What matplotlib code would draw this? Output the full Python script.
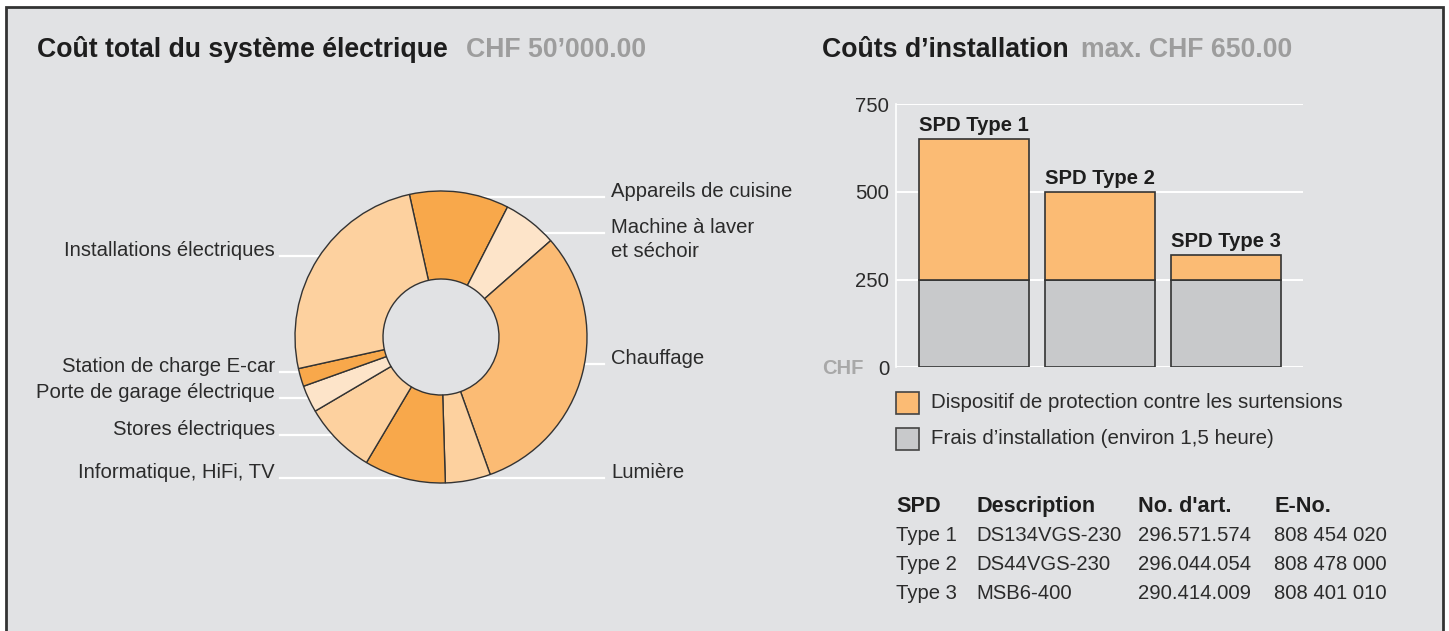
import numpy as np
import matplotlib
matplotlib.use("Agg")
import matplotlib.pyplot as plt
from matplotlib.patches import Rectangle

plt.rcParams['font.family'] = ['Liberation Sans', 'DejaVu Sans']

# donut data (share of total cost, %) - clockwise from top
pie_labels = ["Appareils de cuisine", "Machine à laver\net séchoir", "Chauffage", "Lumière",
              "Informatique, HiFi, TV", "Stores électriques", "Porte de garage électrique",
              "Station de charge E-car", "Installations électriques"]
pie_values = [11, 6, 31, 5, 9, 8, 3, 2, 25]
pie_colors = ["#f8a84b", "#fde4c9", "#fbbb74", "#fdd19f", "#f8a84b",
              "#fdd19f", "#fde4c9", "#f8a84b", "#fdd19f"]

# bar data (CHF)
bar_labels = ["SPD Type 1", "SPD Type 2", "SPD Type 3"]
install_cost = [250, 250, 250]
spd_cost = [400, 250, 70]
yticks = [0, 250, 500, 750]

# table
table_header = ["SPD", "Description", "No. d'art.", "E-No."]
table_rows = [["Type 1", "DS134VGS-230", "296.571.574", "808 454 020"],
              ["Type 2", "DS44VGS-230", "296.044.054", "808 478 000"],
              ["Type 3", "MSB6-400", "290.414.009", "808 401 010"]]

W, H = 1449, 631
BG = "#e1e2e4"
TXT = "#2b2b2b"
GREY_T = "#9d9d9d"
FS = 14.6

def Y(y):
    return H - y

fig = plt.figure(figsize=(W / 100, H / 100), dpi=100, facecolor="white")
ax = fig.add_axes([0, 0, 1, 1])
ax.set_xlim(0, W)
ax.set_ylim(0, H)
ax.axis("off")

# panel background with frame
ax.add_patch(Rectangle((6, Y(640)), 1437, 633, facecolor=BG, edgecolor="#333333", lw=2, zorder=-5))

# titles
ax.text(37, Y(57), "Coût total du système électrique", fontsize=19.2, fontweight="bold", color="#1e1e1e", va="baseline")
ax.text(466, Y(57), "CHF 50’000.00", fontsize=19.2, fontweight="bold", color=GREY_T, va="baseline")
ax.text(822, Y(57), "Coûts d’installation", fontsize=19.2, fontweight="bold", color="#1e1e1e", va="baseline")
ax.text(1081, Y(57), "max. CHF 650.00", fontsize=19.2, fontweight="bold", color=GREY_T, va="baseline")

# donut
cx, cy, R = 441, 337, 146
ax.pie(pie_values, colors=pie_colors, startangle=102.5, counterclock=False, radius=R,
       center=(cx, Y(cy)), frame=True,
       wedgeprops=dict(width=R - 58, edgecolor="#333333", linewidth=1))
ax.set_xlim(0, W)
ax.set_ylim(0, H)
ax.axis("off")

# label positions (baseline y of first line) and side
label_y = [197, 233, 364, 478, 478, 435, 398, 372, 256]
label_side = ["r", "r", "r", "r", "l", "l", "l", "l", "l"]
for lab, yy, side in zip(pie_labels, label_y, label_side):
    xe = np.sqrt(max(R ** 2 - (yy - cy) ** 2, 0))
    if side == "r":
        ax.plot([cx + xe - 6, 604], [Y(yy), Y(yy)], color="white", lw=1.6, zorder=0)
        for k, line in enumerate(lab.split("\n")):
            ax.text(611, Y(yy + 24 * k), line, fontsize=FS, color=TXT, ha="left", va="baseline")
    else:
        ax.plot([280, cx - xe + 6], [Y(yy), Y(yy)], color="white", lw=1.6, zorder=0)
        ax.text(275, Y(yy), lab, fontsize=FS, color=TXT, ha="right", va="baseline")

# bar chart
bx0, bx1, by0, by1 = 896, 1303, 367.3, 104.3
ax2 = fig.add_axes([bx0 / W, Y(by0) / H, (bx1 - bx0) / W, (by0 - by1) / H])
ax2.set_facecolor("none")
x = np.arange(len(bar_labels))
ax2.bar(x, install_cost, width=0.875, color="#c8c9cb", edgecolor="#333333", linewidth=1.2, zorder=3)
ax2.bar(x, spd_cost, bottom=install_cost, width=0.875, color="#fbbb74", edgecolor="#333333", linewidth=1.2, zorder=3)
for xi, lab, a, b in zip(x, bar_labels, install_cost, spd_cost):
    ax2.annotate(lab, (xi, a + b), xytext=(0, 6), textcoords="offset points",
                 ha="center", va="baseline", fontsize=14.6, fontweight="bold", color="#1e1e1e")
ax2.set_xlim(-0.623, 2.615)
ax2.set_ylim(0, 750)
ax2.set_yticks(yticks)
ax2.set_yticklabels([str(t) for t in yticks], fontsize=FS, color=TXT)
ax2.set_xticks([])
ax2.tick_params(axis="y", length=0, pad=5)
ax2.grid(axis="y", color="white", lw=1.4, zorder=0)
for s in ["top", "right", "bottom"]:
    ax2.spines[s].set_visible(False)
ax2.spines["left"].set_color("white")
ax2.spines["left"].set_linewidth(1.2)
ax2.set_axisbelow(True)
ax.text(822, Y(368), "CHF", fontsize=14.5, fontweight="bold", color="#a8a8a8", va="center")

# legend
for yy, col, lab in [(403, "#fbbb74", "Dispositif de protection contre les surtensions"),
                     (439, "#c8c9cb", "Frais d’installation (environ 1,5 heure)")]:
    ax.add_patch(Rectangle((896, Y(yy + 11)), 23, 22, facecolor=col, edgecolor="#444444", lw=1.2))
    ax.text(931, Y(yy), lab, fontsize=14.8, color=TXT, va="center")

# table
col_x = [896, 976, 1138, 1274]
for cxp, h in zip(col_x, table_header):
    ax.text(cxp, Y(512), h, fontsize=15.6, fontweight="bold", color="#1e1e1e", va="baseline")
for i, row in enumerate(table_rows):
    for cxp, v in zip(col_x, row):
        ax.text(cxp, Y(541 + 29 * i), v, fontsize=FS, color=TXT, va="baseline")

fig.savefig("out.png", dpi=100, facecolor="white")
